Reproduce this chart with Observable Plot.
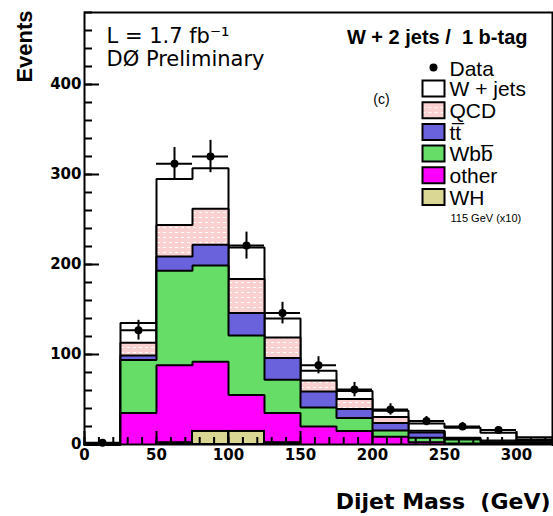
<!DOCTYPE html>
<html><head><meta charset="utf-8">
<script src="https://cdn.jsdelivr.net/npm/d3@7"></script>
<script src="https://cdn.jsdelivr.net/npm/@observablehq/plot@0.6"></script>
<style>body{margin:0;background:#fff} svg{display:block}</style>
</head><body><div id="chart"></div>
<script>
// ---- data ----
const binLow = [0, 25, 50, 75, 100, 125, 150, 175, 200, 225, 250, 275, 300];
const binWidth = 25;
// stacked backgrounds, bottom to top
const other = [0, 35, 88, 92, 55, 35, 20, 15, 8.5, 2.6, 1.2, 1, 1];
const wbb   = [0, 59, 105, 107, 66, 37, 21, 14.5, 7, 4.8, 4.3, 1.5, 1.5];
const ttbar = [0, 5, 16, 23, 25, 24, 18, 10, 8.5, 6, 1, 1, 1.5];
const qcd   = [0, 14, 35, 40, 38, 23, 12, 11, 6.5, 2, 1, 1, 1.5];
const wjets = [0, 22, 51, 45, 35, 21, 11, 9, 7, 8, 11, 8.5, 2.5];
// WH signal, 115 GeV, x10 (overlay)
const wh = [0, 0, 2, 14.5, 14.5, 2, 0, 0, 0, 0, 0, 0, 0];
// observed data
const dataCounts = [2, 127, 312, 320, 221, 146, 88, 61, 39, 26, 20, 16];
const dataErrors = [1.5, 11, 18, 18, 15, 12, 9.5, 8, 6.3, 5.1, 4.5, 4];
// axis ticks
const xTicks = [0, 50, 100, 150, 200, 250, 300];
const yTicks = [0, 100, 200, 300, 400];
const xMinor = d3.range(0, 330, 10);
const yMinor = d3.range(0, 481, 20);
// legend
const legendLabels = ["W + jets", "QCD", "tt\u0305", "Wbb\u0305", "other", "WH"];
const legendFills = ["#ffffff", "url(#qcdpat)", "#6a62dc", "#66dd66", "#ff00ff", "#dad694"];

// ---- layout ----
const W = 553, H = 516, ML = 84, MR = 1, MT = 12, MB = 72;
const FW = W - ML - MR, FH = H - MT - MB;

const levels = [other, wbb, ttbar, qcd, wjets];
const levelFills = ["#ff00ff", "#66dd66", "#6a62dc", "url(#qcdpat)", "#ffffff"];
const cums = [];
levels.forEach((arr, k) => cums.push(arr.map((v, i) => v + (k > 0 ? cums[k - 1][i] : 0))));

function stepPoints(cum) {
  const pts = [{x: binLow[0], y: 0}];
  binLow.forEach((lo, i) => { pts.push({x: lo, y: cum[i]}, {x: lo + binWidth, y: cum[i]}); });
  pts.push({x: binLow[binLow.length - 1] + binWidth, y: 0});
  return pts;
}

const marks = [];
for (let k = levels.length - 1; k >= 0; k--) {
  const pts = stepPoints(cums[k]);
  marks.push(Plot.area(pts, {x1: "x", y1: 0, y2: "y", fill: levelFills[k]}));
  marks.push(Plot.line(pts, {x: "x", y: "y", stroke: "#000", strokeWidth: 2, strokeLinejoin: "miter"}));
}
const whRows = wh.map((v, i) => ({lo: binLow[i], hi: binLow[i] + binWidth, v})).filter(d => d.v > 0);
marks.push(Plot.rect(whRows, {x1: "lo", x2: "hi", y1: 0, y2: "v", fill: "#dad694", stroke: "#000", strokeWidth: 2}));

// ticks (inside the frame)
marks.push(Plot.tickY(yMinor, {y: d => d, insetRight: FW - 8, strokeWidth: 2}));
marks.push(Plot.tickY(yTicks, {y: d => d, insetRight: FW - 15, strokeWidth: 2}));
marks.push(Plot.tickX(xMinor, {x: d => d, insetTop: FH - 7, strokeWidth: 2}));
marks.push(Plot.tickX(xTicks, {x: d => d, insetTop: FH - 13, strokeWidth: 2}));
marks.push(Plot.frame({stroke: "#000", strokeWidth: 2}));
marks.push(Plot.axisX(xTicks, {tickSize: 0, tickPadding: 5, fontSize: 15, fontWeight: "bold", fontFamily: "DejaVu Sans", label: null}));
marks.push(Plot.axisY(yTicks, {tickSize: 0, tickPadding: 3, fontSize: 15, fontWeight: "bold", fontFamily: "DejaVu Sans", label: null}));

// data points
const dataRows = dataCounts.map((n, i) => ({lo: binLow[i], hi: binLow[i] + binWidth, mid: binLow[i] + binWidth / 2, n, e: dataErrors[i]}));
marks.push(Plot.ruleY(dataRows, {y: "n", x1: "lo", x2: "hi", strokeWidth: 2}));
marks.push(Plot.ruleX(dataRows, {x: "mid", y1: d => d.n - d.e, y2: d => d.n + d.e, strokeWidth: 2}));
marks.push(Plot.dot(dataRows, {x: "mid", y: "n", r: 4, fill: "#000"}));

// legend
const boxSym = {draw(ctx) { ctx.moveTo(-11, -8); ctx.lineTo(11, -8); ctx.lineTo(11, 8); ctx.lineTo(-11, 8); ctx.closePath(); }};
const LF = "Liberation Sans, Arial, sans-serif";
const T = (str, o) => Plot.text([str], {frameAnchor: "top-left", text: d => d, lineAnchor: "middle", textAnchor: "start", ...o});
marks.push(Plot.dot([0], {frameAnchor: "top-left", dx: 349, dy: 55, r: 4, fill: "#000"}));
marks.push(T("Data", {dx: 365, dy: 57, fontSize: 21, fontFamily: LF}));
legendLabels.forEach((lab, i) => {
  marks.push(Plot.dot([0], {frameAnchor: "top-left", dx: 349, dy: 76 + 21.7 * i, symbol: boxSym, fill: legendFills[i], stroke: "#000", strokeWidth: 2}));
  marks.push(T(lab, {dx: 365, dy: 77 + 21.7 * i, fontSize: 21, fontFamily: LF}));
});
marks.push(T("115 GeV (x10)", {dx: 366, dy: 206, fontSize: 11, fontFamily: LF}));
marks.push(T("(c)", {dx: 297, dy: 87, textAnchor: "middle", fontSize: 14, fontFamily: LF, letterSpacing: 3}));

// annotations
const DF = "DejaVu Sans, sans-serif";
marks.push(T("L = 1.7 fb\u207B\u00B9", {dx: 22, dy: 24, fontSize: 21, fontFamily: DF}));
marks.push(T("D\u00D8 Preliminary", {dx: 22, dy: 47, fontSize: 21, fontFamily: DF}));
marks.push(T("W + 2 jets /\u00A0\u00A01 b-tag", {dx: 443, dy: 25, textAnchor: "end", fontSize: 20, fontWeight: "bold", fontFamily: LF}));
marks.push(T("Events", {dx: 24 - ML, dy: 46 - MT, textAnchor: "middle", rotate: -90, fontSize: 22, fontWeight: "bold", fontFamily: LF}));
marks.push(T("Dijet Mass\u00A0\u00A0(GeV)", {dx: 466, dy: 489, textAnchor: "end", fontSize: 22, fontWeight: "bold", fontFamily: DF}));

const svg = Plot.plot({
  width: W, height: H,
  marginLeft: ML, marginRight: MR, marginTop: MT, marginBottom: MB,
  x: {domain: [0, 325]},
  y: {domain: [0, 480]},
  style: {background: "#fff", color: "#000", fontFamily: DF},
  marks
});
const defs = d3.select(svg).insert("defs", ":first-child");
const pat = defs.append("pattern").attr("id", "qcdpat").attr("width", 6).attr("height", 5).attr("patternUnits", "userSpaceOnUse");
pat.append("rect").attr("width", 6).attr("height", 5).attr("fill", "#fbd0d0");
pat.append("rect").attr("x", 1).attr("y", 2).attr("width", 3).attr("height", 1).attr("fill", "#ffffff");
document.getElementById("chart").appendChild(svg);
</script>
</body></html>
